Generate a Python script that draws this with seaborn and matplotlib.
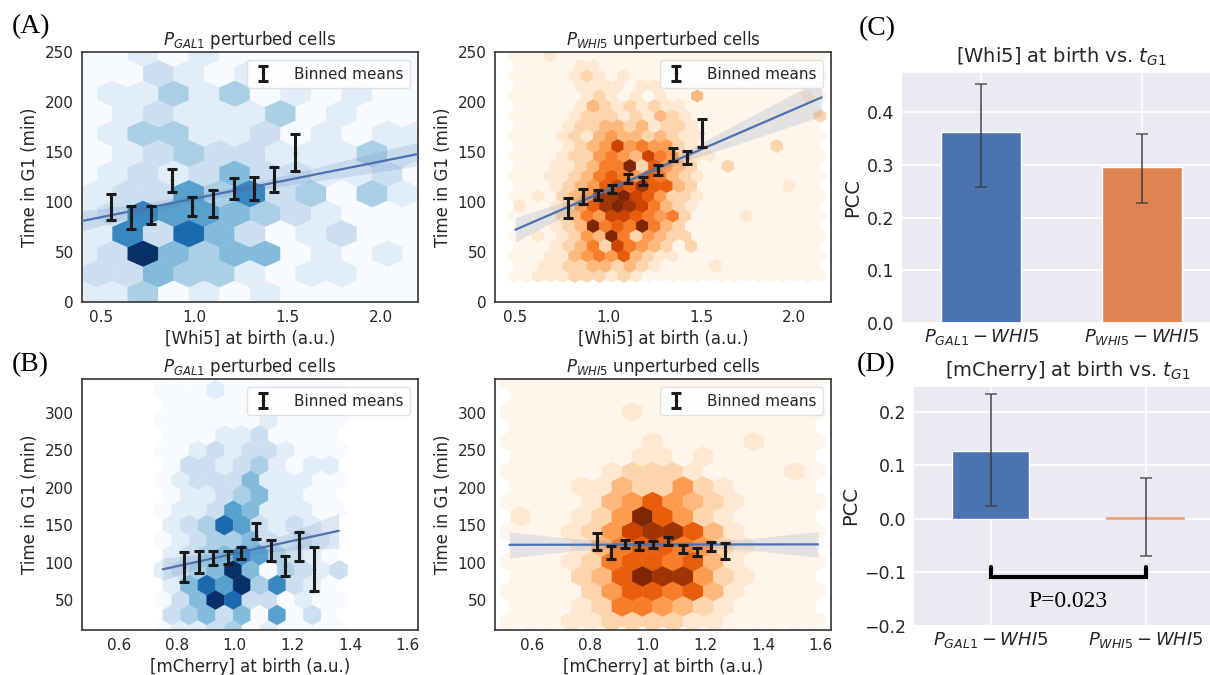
import numpy as np
import matplotlib
matplotlib.use("Agg")
import matplotlib.pyplot as plt
import seaborn as sns

# ---------------- data ----------------
# hexbin cell intensities (0-9), rows listed top -> bottom, alternate hex lattices
# Panel A, P_GAL1 (extent x 0.4-2.2, y 8.3-248.3, gridsize 11x6)
hexA_gal_rows = [
    "001010000000",
    "00210100000",
    "011313010100",
    "01211130100",
    "013311201011",
    "01232211131",
    "012124221120",
    "12253623031",
    "126554321000",
    "16274201200",
    "129434401010",
    "22433101100",
    "113010100000",
]
# Panel A, P_WHI5 (extent x 0.49-2.14, y 26-306, gridsize 25x14)
hexA_whi_rows = [
    "0",
    "0001",
    "0000011",
    "00000121010000000001",
    "000001111011",
    "0000001210101003000000001",
    "00000132121211",
    "00000122212132100000000002",
    "000012233231221",
    "0000121343323211",
    "0000123474544210000002",
    "00001224543754211",
    "000112355926432002",
    "0001123565465321",
    "00012346768663200000001",
    "0010234889764221",
    "100124689875321",
    "00002354776545200001",
    "00012395659532",
    "001012439524322",
    "000123527543202",
    "00011345463211",
    "00112233232100001",
    "00111222121",
]
# Panel B, P_GAL1 (extent x 0.75-1.36, y 10-330, gridsize 10x8)
hexB_gal_rows = [
    "00010000000",
    "0000000000",
    "00000010000",
    "0001120000",
    "00121221000",
    "0221231011",
    "01222411100",
    "0112341100",
    "01125411100",
    "1237521210",
    "01233421210",
    "1234653210",
    "12349403212",
    "1475936210",
    "02497220100",
    "2342405020",
    "01123010000",
]
# Panel B, P_WHI5 (extent x 0.523-1.58, y 21.5-341.5, gridsize 15x8)
hexB_whi_rows = [
    "0",
    "0",
    "0000001",
    "0",
    "0000000100001",
    "000000110100",
    "000001222100001",
    "00011322421",
    "000013464321",
    "10012496421",
    "000124788631",
    "000135665421",
    "000125665631",
    "000236988421",
    "0000246656310",
    "00012554321",
    "00011222211",
]

# binned means (x, mean, half error)
binA_gal_x = [0.554, 0.664, 0.771, 0.880, 0.991, 1.101, 1.212, 1.323, 1.430, 1.541]
binA_gal_y = [94.7, 84.3, 86.8, 121.7, 95.5, 98.7, 113.8, 113.3, 122.5, 149.5]
binA_gal_e = [13.0, 11.7, 9.2, 11.7, 9.5, 13.7, 10.5, 11.7, 12.5, 18.8]

binA_whi_x = [0.782, 0.863, 0.946, 1.021, 1.105, 1.186, 1.267, 1.347, 1.425, 1.506]
binA_whi_y = [94.2, 105.8, 106.7, 113.3, 123.3, 121.2, 132.0, 147.7, 144.2, 168.8]
binA_whi_e = [9.8, 7.5, 5.0, 4.0, 4.3, 3.8, 4.7, 6.7, 6.5, 13.8]

binB_gal_x = [0.824, 0.875, 0.925, 0.975, 1.023, 1.073, 1.124, 1.174, 1.224, 1.273]
binB_gal_y = [94.2, 100.3, 105.9, 106.5, 112.6, 142.1, 116.1, 95.8, 121.7, 91.6]
binB_gal_e = [19.7, 14.5, 9.0, 8.3, 8.0, 10.7, 13.4, 13.6, 19.0, 29.0]

binB_whi_x = [0.824, 0.873, 0.922, 0.970, 1.019, 1.069, 1.121, 1.169, 1.218, 1.268]
binB_whi_y = [128.5, 113.5, 124.7, 122.0, 124.0, 128.7, 118.5, 114.5, 121.0, 115.3]
binB_whi_e = [11.6, 8.7, 5.6, 5.2, 4.9, 5.1, 5.1, 5.6, 6.2, 10.5]

# regression fits and confidence bands
regA_gal_x = [0.4, 0.7, 1.0, 1.3, 1.6, 1.9, 2.2]
regA_gal_y = [81, 92.2, 103.3, 114.5, 125.7, 136.8, 148]
regA_gal_lo = [71, 86, 99, 110.5, 119.5, 127.5, 136]
regA_gal_hi = [91, 98, 107.5, 118.5, 132, 146, 160]

regA_whi_x = [0.5, 0.8, 1.1, 1.4, 1.7, 2.15]
regA_whi_y = [72.3, 96.4, 120.4, 144.5, 168.6, 204.7]
regA_whi_lo = [60, 90, 117.5, 140, 158, 186]
regA_whi_hi = [84.5, 102.5, 123.5, 149, 179, 223]

regB_gal_x = [0.75, 0.9, 1.05, 1.2, 1.36]
regB_gal_y = [91, 103.6, 116.3, 129, 142.4]
regB_gal_lo = [76, 96, 111, 117, 119]
regB_gal_hi = [106, 111, 121.5, 141, 166]

regB_whi_x = [0.52, 0.75, 1.05, 1.35, 1.59]
regB_whi_y = [123.7, 123.8, 124.0, 124.2, 124.3]
regB_whi_lo = [106, 116, 121, 117, 107]
regB_whi_hi = [141, 131.5, 127, 131.5, 141.5]

# bar panels
bar_labels = [r"$P_{GAL1}-WHI5$", r"$P_{WHI5}-WHI5$"]
pccC = [0.362, 0.296]
pccC_lo = [0.257, 0.228]
pccC_hi = [0.453, 0.358]
pccD = [0.127, 0.002]
pccD_lo = [0.024, -0.069]
pccD_hi = [0.233, 0.077]
p_value_text = "P=0.023"

# ---------------- style ----------------
sns.set_theme(style="white", context="notebook")
plt.rcParams["font.family"] = ["DejaVu Sans"]
plt.rcParams["mathtext.fontset"] = "dejavusans"
TXT = "#262626"

W, H = 1210, 675
fig = plt.figure(figsize=(W / 100, H / 100), dpi=100)


def rect(l, t, r, b):
    return [l / W, 1 - b / H, (r - l) / W, (b - t) / H]


def hex_cells(rows, extent, nx, ny):
    xmin, xmax, ymin, ymax = extent
    sx = (xmax - xmin) / nx
    sy = (ymax - ymin) / ny
    xs, ys, cs = [], [], []
    for k, row in enumerate(reversed(rows)):
        y = ymin + k * sy / 2
        off = 0.0 if k % 2 == 0 else 0.5
        ncell = nx + 1 if k % 2 == 0 else nx
        row = row.ljust(ncell, "0")[:ncell]
        for i, ch in enumerate(row):
            xs.append(xmin + (i + off) * sx)
            ys.append(y)
            cs.append(int(ch))
    return np.array(xs), np.array(ys), np.array(cs, float)


def hex_panel(ax, rows, extent, grid, cmap, binx, biny, bine, rx, ry, rlo, rhi,
              title, xlabel, xlim, ylim, xticks, yticks):
    xs, ys, cs = hex_cells(rows, extent, grid[0], grid[1])
    ax.hexbin(xs, ys, C=cs, gridsize=grid, extent=extent, reduce_C_function=np.sum,
              cmap=cmap, vmin=0, vmax=9, linewidths=0.3, edgecolors="face", zorder=1)
    ax.fill_between(rx, rlo, rhi, color="#4c72b0", alpha=0.15, lw=0, zorder=2)
    sns.lineplot(x=rx, y=ry, ax=ax, color="#4c72b0", lw=1.6, zorder=3)
    ax.errorbar(binx, biny, yerr=bine, fmt="o", ms=1.5, color="#1a1a1a", ecolor="#1a1a1a",
                elinewidth=2.2, capsize=3.8, capthick=2.2, label="Binned means", zorder=4)
    ax.set_xlim(*xlim)
    ax.set_ylim(*ylim)
    ax.set_xticks(xticks)
    ax.set_yticks(yticks)
    ax.tick_params(labelsize=11, colors=TXT, length=0, pad=6)
    ax.set_title(title, fontsize=12, color=TXT, pad=5)
    ax.set_xlabel(xlabel, fontsize=12, color=TXT, labelpad=3)
    ax.set_ylabel("Time in G1 (min)", fontsize=12, color=TXT, labelpad=4)
    for s in ax.spines.values():
        s.set_color("#333333")
        s.set_linewidth(1.2)
    leg = ax.legend(loc="upper right", fontsize=11, frameon=True, handlelength=1.2,
                    borderpad=0.45, handletextpad=1.4)
    leg.get_frame().set_edgecolor("#dddddd")
    leg.get_frame().set_alpha(0.85)


axA1 = fig.add_axes(rect(82, 52, 418, 302))
hex_panel(axA1, hexA_gal_rows, (0.4, 2.2, 8.3, 248.3), (11, 6), "Blues",
          binA_gal_x, binA_gal_y, binA_gal_e, regA_gal_x, regA_gal_y, regA_gal_lo, regA_gal_hi,
          r"$P_{GAL1}$ perturbed cells", "[Whi5] at birth (a.u.)",
          (0.4, 2.2), (0, 250), [0.5, 1.0, 1.5, 2.0], [0, 50, 100, 150, 200, 250])

axA2 = fig.add_axes(rect(495, 52, 831, 302))
hex_panel(axA2, hexA_whi_rows, (0.49, 2.14, 26, 306), (25, 14), "Oranges",
          binA_whi_x, binA_whi_y, binA_whi_e, regA_whi_x, regA_whi_y, regA_whi_lo, regA_whi_hi,
          r"$P_{WHI5}$ unperturbed cells", "[Whi5] at birth (a.u.)",
          (0.39, 2.2), (0, 250), [0.5, 1.0, 1.5, 2.0], [0, 50, 100, 150, 200, 250])

axB1 = fig.add_axes(rect(82, 379, 418, 630))
hex_panel(axB1, hexB_gal_rows, (0.75, 1.36, 10, 330), (10, 8), "Blues",
          binB_gal_x, binB_gal_y, binB_gal_e, regB_gal_x, regB_gal_y, regB_gal_lo, regB_gal_hi,
          r"$P_{GAL1}$ perturbed cells", "[mCherry] at birth (a.u.)",
          (0.47, 1.635), (10, 345), [0.6, 0.8, 1.0, 1.2, 1.4, 1.6], [50, 100, 150, 200, 250, 300])

axB2 = fig.add_axes(rect(495, 379, 831, 630))
hex_panel(axB2, hexB_whi_rows, (0.523, 1.58, 21.5, 341.5), (15, 8), "Oranges",
          binB_whi_x, binB_whi_y, binB_whi_e, regB_whi_x, regB_whi_y, regB_whi_lo, regB_whi_hi,
          r"$P_{WHI5}$ unperturbed cells", "[mCherry] at birth (a.u.)",
          (0.47, 1.635), (10, 345), [0.6, 0.8, 1.0, 1.2, 1.4, 1.6], [50, 100, 150, 200, 250, 300])

# ---------------- bar panels ----------------
bar_colors = ["#4c72b0", "#dd8452"]


def bar_panel(ax, vals, lo, hi, title, ylim, yticks):
    sns.barplot(x=bar_labels, y=vals, hue=bar_labels, palette=bar_colors, width=0.5,
                saturation=1, legend=False, errorbar=None, ax=ax, zorder=2)
    vals = np.array(vals)
    yerr = [vals - np.array(lo), np.array(hi) - vals]
    ax.errorbar([0, 1], vals, yerr=yerr, fmt="none", ecolor="#3a3a3a", alpha=0.75,
                elinewidth=1.4, capsize=4.5, capthick=1.2, zorder=3)
    ax.set_xlim(-0.5, 1.5)
    ax.set_ylim(*ylim)
    ax.set_yticks(yticks)
    ax.set_ylabel("PCC", fontsize=14, color=TXT, labelpad=3)
    ax.set_title(title, fontsize=14, color=TXT, pad=7)
    ax.tick_params(axis="y", labelsize=12.5, colors=TXT, length=0, pad=5)
    ax.tick_params(axis="x", labelsize=13, colors=TXT, length=0, pad=3)
    ax.grid(True, axis="both", color="white", lw=1.2)
    ax.set_axisbelow(True)


with sns.axes_style("darkgrid"):
    axC = fig.add_axes(rect(901, 72, 1222, 323))
    axD = fig.add_axes(rect(913, 386, 1223, 626))
bar_panel(axC, pccC, pccC_lo, pccC_hi, r"[Whi5] at birth vs. $t_{G1}$",
          (0, 0.476), [0.0, 0.1, 0.2, 0.3, 0.4])
bar_panel(axD, pccD, pccD_lo, pccD_hi, r"[mCherry] at birth vs. $t_{G1}$",
          (-0.2, 0.248), [-0.2, -0.1, 0.0, 0.1, 0.2])
# the near-zero bar in D shows as a thin orange line
thin_bar = axD.patches[1]
thin_bar.set_edgecolor("#f0a070")
thin_bar.set_linewidth(1.2)
axD.plot([0, 0, 1, 1], [-0.09, -0.109, -0.109, -0.09], color="black", lw=3,
         solid_joinstyle="miter", zorder=4)
axD.text(0.5, -0.155, p_value_text, ha="center", va="center", fontsize=17,
         family=["Liberation Serif", "DejaVu Serif"], color="black")

# ---------------- panel letters ----------------
for lab, x, y in [("(A)", 12, 14), ("(B)", 12, 352), ("(C)", 859, 16), ("(D)", 857, 352)]:
    fig.text(x / W, 1 - y / H, lab, ha="left", va="top", fontsize=20,
             family=["Liberation Serif", "DejaVu Serif"], color="black")

fig.savefig("out.png", dpi=100)
